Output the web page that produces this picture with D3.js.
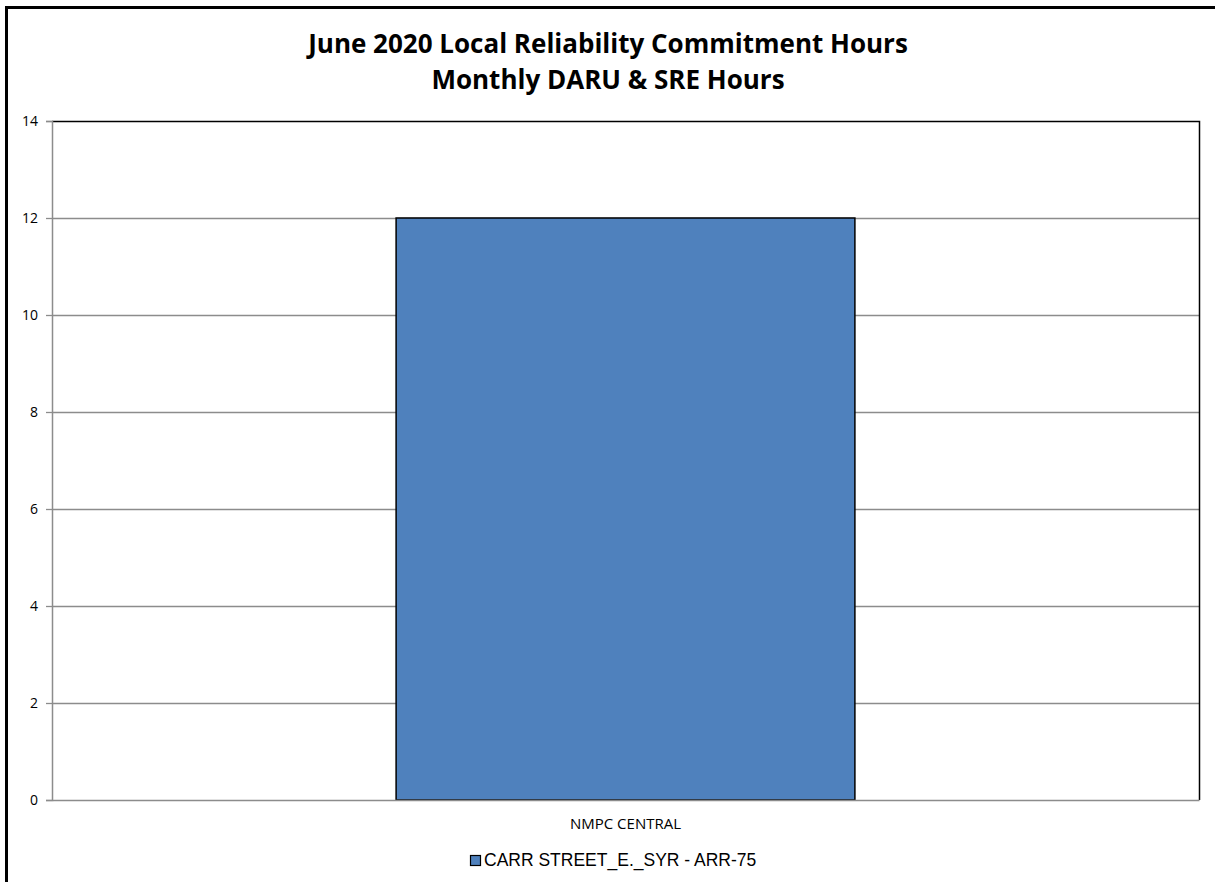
<!DOCTYPE html>
<html>
<head>
<meta charset="utf-8">
<script src="https://cdn.jsdelivr.net/npm/d3@7"></script>
<style>
  body { margin: 0; background: #fff; }
  svg { display: block; }
</style>
</head>
<body>
<svg width="1215" height="882"></svg>
<script>
// ==== data ====
var categories = ["NMPC CENTRAL"];
var seriesName = "CARR STREET_E._SYR - ARR-75";
var hours = [12];
var yTicks = [0, 2, 4, 6, 8, 10, 12, 14];
var titleLines = ["June 2020 Local Reliability Commitment Hours", "Monthly DARU & SRE Hours"];

// ==== main ====
var svg = d3.select("svg"),
  width = 1215,
  height = 882;

var plot = { left: 52, top: 121, right: 1199, bottom: 800 };

// outer chart border (cropped at right and bottom)
svg.append("path")
  .attr("d", "M6.5," + height + "V7.5H" + width)
  .attr("fill", "none")
  .attr("stroke", "#000")
  .attr("stroke-width", 3);

var title = svg.append("text")
  .attr("text-anchor", "middle")
  .attr("font-family", "'Open Sans', Lato, sans-serif")
  .attr("font-weight", "bold")
  .attr("font-size", "26px")
  .attr("fill", "#000");
title.selectAll("tspan")
  .data(titleLines)
  .enter().append("tspan")
  .attr("x", 608)
  .attr("y", function (d, i) { return 53 + i * 36; })
  .text(function (d) { return d; });

var x = d3.scaleBand()
  .domain(categories)
  .range([plot.left, plot.right])
  .paddingInner(0.6)
  .paddingOuter(0.3);

var y = d3.scaleLinear()
  .domain([0, 14])
  .range([plot.bottom, plot.top]);

// gridlines
svg.append("g")
  .selectAll("line")
  .data(yTicks.filter(function (d) { return d > 0 && d < 14; }))
  .enter().append("line")
  .attr("x1", plot.left)
  .attr("x2", plot.right)
  .attr("y1", function (d) { return Math.round(y(d)) + 0.5; })
  .attr("y2", function (d) { return Math.round(y(d)) + 0.5; })
  .attr("stroke", "#8c8c8c")
  .attr("stroke-width", 1.3);

// top and right border of plot area
svg.append("path")
  .attr("d", "M" + plot.left + "," + (plot.top + 0.5) + "H" + (plot.right + 0.5) + "V" + plot.bottom)
  .attr("fill", "none")
  .attr("stroke", "#000")
  .attr("stroke-width", 1.5);

// bars
svg.append("g")
  .selectAll("rect")
  .data(hours)
  .enter().append("rect")
  .attr("x", function (d, i) { return x(categories[i]); })
  .attr("y", function (d) { return y(d); })
  .attr("width", x.bandwidth())
  .attr("height", function (d) { return y(0) - y(d); })
  .attr("fill", "#4f81bd")
  .attr("stroke", "#000")
  .attr("stroke-width", 1.5);

// y axis
var yAxis = svg.append("g")
  .attr("transform", "translate(" + plot.left + ",0)")
  .call(d3.axisLeft(y).tickValues(yTicks).tickSize(6).tickPadding(8));
yAxis.select(".domain").attr("stroke", "#8c8c8c").attr("stroke-width", 1.5);
yAxis.selectAll(".tick line").attr("stroke", "#8c8c8c").attr("stroke-width", 1.3);
yAxis.selectAll("text")
  .attr("font-family", "'Open Sans', Lato, sans-serif")
  .attr("font-size", "14px")
  .attr("fill", "#000");

// x axis
var xAxis = svg.append("g")
  .attr("transform", "translate(0," + plot.bottom + ")")
  .call(d3.axisBottom(x).tickSize(0).tickPadding(18));
xAxis.select(".domain").attr("stroke", "#8c8c8c").attr("stroke-width", 1.5);
xAxis.selectAll("text")
  .attr("font-family", "'Open Sans', Lato, sans-serif")
  .attr("font-size", "15px")
  .attr("fill", "#000");

// legend
var legend = svg.append("g").attr("transform", "translate(470,866)");
legend.append("rect")
  .attr("x", 0.5).attr("y", -10.5)
  .attr("width", 10).attr("height", 10)
  .attr("fill", "#4f81bd")
  .attr("stroke", "#000")
  .attr("stroke-width", 1.2);
legend.append("text")
  .attr("x", 14)
  .attr("y", 0)
  .attr("font-family", "'Liberation Sans', Arial, sans-serif")
  .attr("font-size", "17.5px")
  .attr("fill", "#000")
  .text(seriesName);
</script>
</body>
</html>
